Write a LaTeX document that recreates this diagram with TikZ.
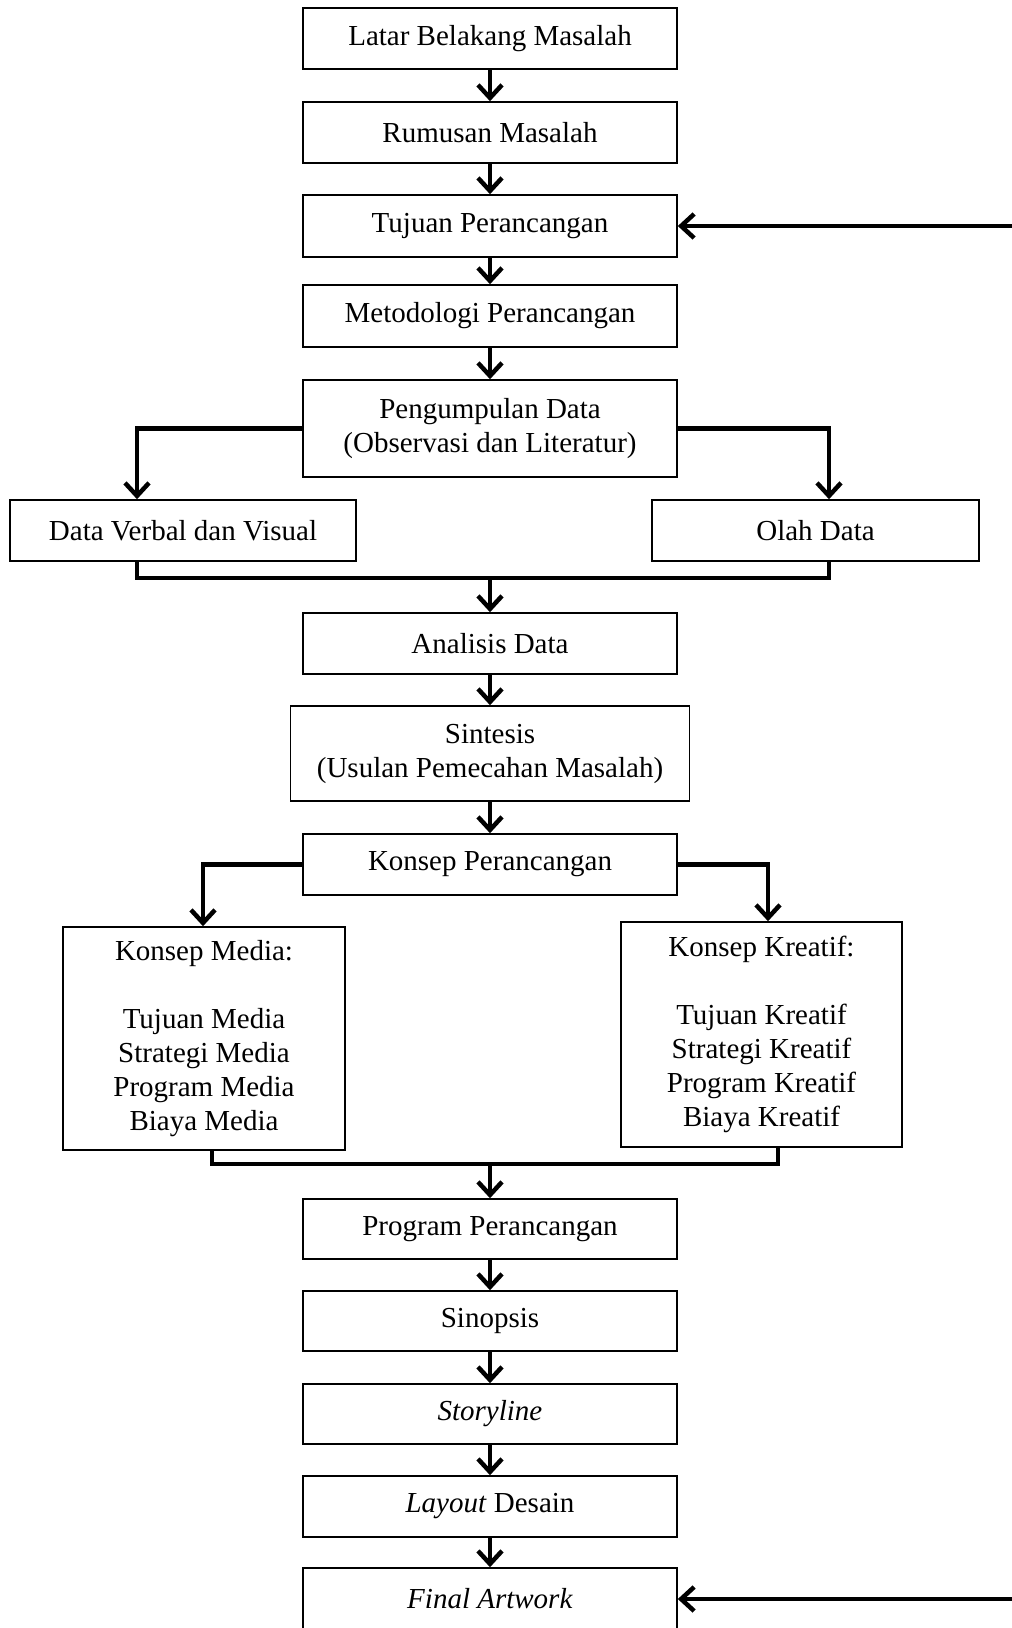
\documentclass[tikz,border=0pt]{standalone}
\usepackage{fontspec}
\setmainfont{Liberation Serif}
\usetikzlibrary{arrows.meta}
\begin{document}
\begin{tikzpicture}[x=1pt,y=-1pt,
  box/.style={draw, line width=1.6pt, minimum width=374pt, minimum height=61pt, inner sep=0pt, align=center, font=\fontsize{29}{34}\selectfont},
  conn/.style={line width=4.5pt, -{Straight Barb[length=13pt,width=24pt]}},
  link/.style={line width=4.5pt}]
\useasboundingbox (0,0) rectangle (1012,1628);
\node[box] (latar) at (490,38.5) {Latar Belakang Masalah};
\node[box] (rumusan) at (490,132.5) {Rumusan Masalah};
\node[box, minimum height=62pt] (tujuan) at (490,226) {Tujuan Perancangan};
\node[box, minimum height=62pt] (metod) at (490,316) {Metodologi Perancangan};
\node[box, minimum height=97pt] (peng) at (490,428.5) {Pengumpulan Data\\(Observasi dan Literatur)};
\node[box, minimum width=346pt] (verbal) at (183,530.5) {Data Verbal dan Visual};
\node[box, minimum width=327pt] (olah) at (815.5,530.5) {Olah Data};
\node[box] (analisis) at (490,643.5) {Analisis Data};
\node[box, minimum width=399pt, minimum height=95pt] (sintesis) at (490,753.5) {Sintesis\\(Usulan Pemecahan Masalah)};
\node[box] (konsep) at (490,864.5) {Konsep Perancangan};
\node[box, minimum width=282pt, minimum height=223pt] (media) at (204,1038.5) {Konsep Media:\\[34pt]Tujuan Media\\Strategi Media\\Program Media\\Biaya Media};
\node[box, minimum width=281pt, minimum height=225pt] (kreatif) at (761.5,1034.5) {Konsep Kreatif:\\[34pt]Tujuan Kreatif\\Strategi Kreatif\\Program Kreatif\\Biaya Kreatif};
\node[box, minimum height=60pt] (program) at (490,1229) {Program Perancangan};
\node[box, minimum height=60pt] (sinopsis) at (490,1321) {Sinopsis};
\node[box, minimum height=60pt] (story) at (490,1414) {\textit{Storyline}};
\node[box] (layout) at (490,1506.5) {\textit{Layout} Desain};
\node[box, minimum height=62pt] (final) at (490,1599) {\textit{Final Artwork}};
\coordinate (tr) at (1016,226);
\coordinate (fr) at (1016,1599);
\coordinate (mergeA) at (490,578);
\coordinate (mergeB) at (490,1164);
\draw[conn] (latar) -- (rumusan);
\draw[conn] (rumusan) -- (tujuan);
\draw[conn] (tujuan) -- (metod);
\draw[conn] (metod) -- (peng);
\draw[conn] (peng.west) -| ([xshift=-46pt]verbal.north);
\draw[conn] (peng.east) -| ([xshift=13.5pt]olah.north);
\draw[link] ([xshift=-46pt]verbal.south) |- (mergeA) -| ([xshift=13.5pt]olah.south);
\draw[conn] (mergeA) -- (analisis.north);
\draw[conn] (analisis) -- (sintesis);
\draw[conn] (sintesis) -- (konsep);
\draw[conn] (konsep.west) -| ([xshift=-1pt]media.north);
\draw[conn] (konsep.east) -| ([xshift=6.5pt]kreatif.north);
\draw[link] ([xshift=8pt]media.south) |- (mergeB) -| ([xshift=16.5pt]kreatif.south);
\draw[conn] (mergeB) -- (program.north);
\draw[conn] (program) -- (sinopsis);
\draw[conn] (sinopsis) -- (story);
\draw[conn] (story) -- (layout);
\draw[conn] (layout) -- (final);
\draw[conn] (tr) -- (tujuan.east);
\draw[conn] (fr) -- (final.east);
\end{tikzpicture}
\end{document}
